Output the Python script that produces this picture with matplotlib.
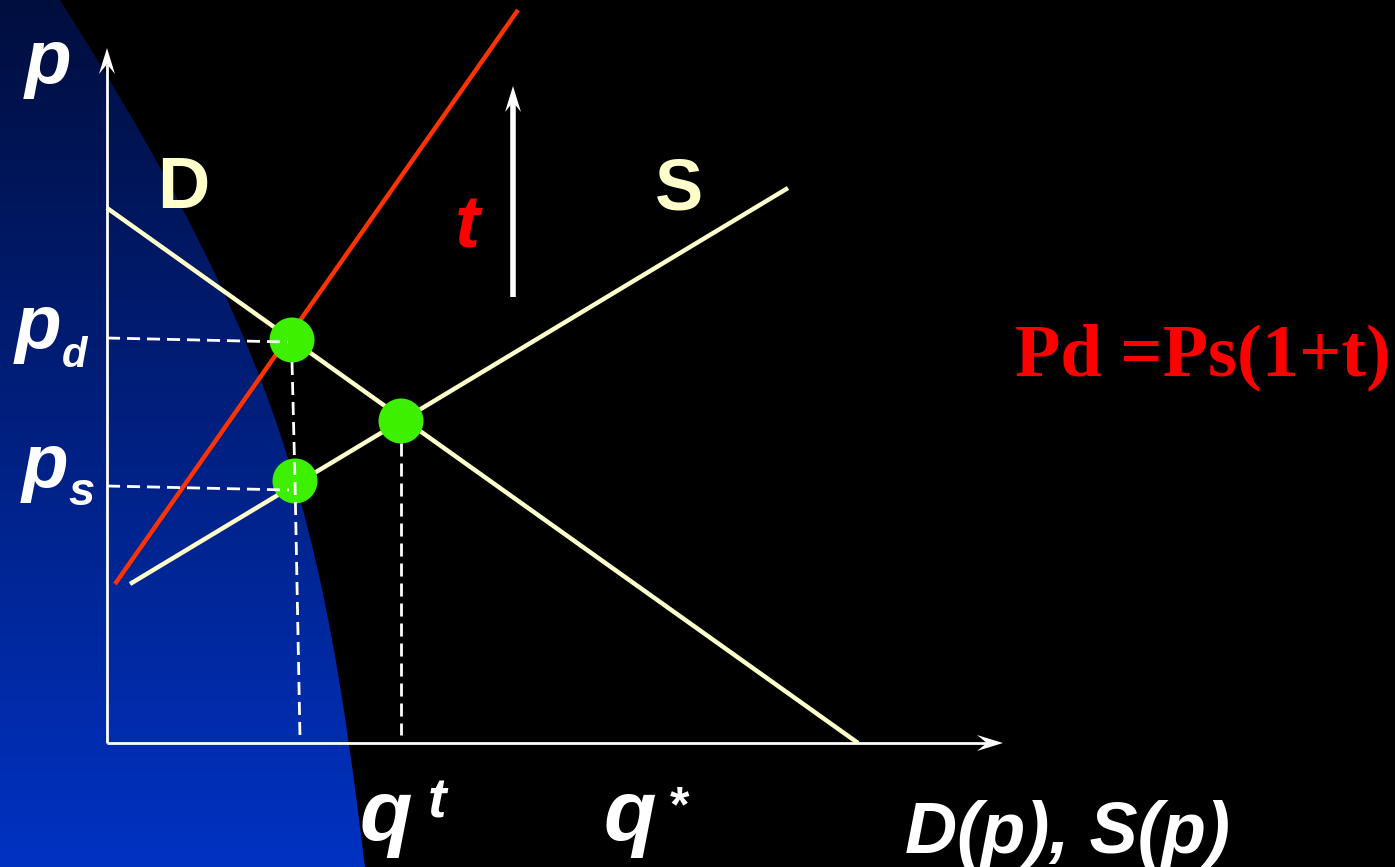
import numpy as np
import matplotlib.pyplot as plt
from matplotlib.path import Path
from matplotlib.patches import PathPatch, Polygon

# Tax wedge on a simple supply / demand diagram.
# Quantity q runs right, price p runs up, origin at the axis corner.
demand_q = [0, 751]
demand_p = [535, 0]
supply_q = [23, 681]
supply_p = [159, 555]
taxed_supply_q = [8, 411]
taxed_supply_p = [159, 733]

# buyer price, no-tax equilibrium, seller price
point_q = [185, 294, 188]
point_p = [403, 322, 262]

q_tax = 193      # quantity traded with the tax
q_star = 294     # quantity without the tax
pd_level = 405
ps_level = 257

SANS = 'Liberation Sans'
SERIF = 'Liberation Serif'
CREAM = '#ffffcc'
GREEN = '#3cf000'

fig = plt.figure(figsize=(13.95, 8.67), dpi=100)
fig.patch.set_facecolor('black')
ax = fig.add_axes([0, 0, 1, 1])
ax.set_facecolor('black')
ax.axis('off')

# blue swoosh on the left side of the slide
verts = [(0, 1), (0.043, 1), (0.2022, 0.5963), (0.2315, 0.4037), (0.2616, 0.0), (0, 0), (0, 1)]
codes = [Path.MOVETO, Path.LINETO, Path.CURVE4, Path.CURVE4, Path.CURVE4, Path.LINETO, Path.CLOSEPOLY]
swoosh = PathPatch(Path(verts, codes), transform=ax.transAxes, facecolor='none', edgecolor='none')
ax.add_patch(swoosh)
top = np.array([0, 14, 62]) / 255
bottom = np.array([0, 50, 194]) / 255
t = np.linspace(0, 1, 256)[:, None]
grad = (top[None, :] * (1 - t) + bottom[None, :] * t)[:, None, :]
img = ax.imshow(grad, extent=[0, 0.27, 0, 1], transform=ax.transAxes,
                aspect='auto', origin='upper', zorder=0)
img.set_clip_path(swoosh)


def arrow(x0, y0, x1, y1, lw, head_len=26, half_w=8, z=3):
    # shaft plus a notched (stealth) head; one data unit is one pixel here
    d = np.array([x1 - x0, y1 - y0], float)
    d /= np.hypot(*d)
    n = np.array([-d[1], d[0]])
    tip = np.array([x1, y1], float)
    back = tip - d * head_len
    notch = tip - d * head_len * 0.62
    ax.plot([x0, notch[0]], [y0, notch[1]], color='white', lw=lw,
            solid_capstyle='butt', zorder=z)
    ax.add_patch(Polygon([tip, back + n * half_w, notch, back - n * half_w],
                         closed=True, color='white', lw=0, zorder=z))


# axes
arrow(0, 0, 0, 695, 2)
arrow(0, 0, 896, 0, 2)

# curves
ax.plot(demand_q, demand_p, color=CREAM, lw=3.2, solid_capstyle='butt', zorder=4)
ax.plot(supply_q, supply_p, color=CREAM, lw=3.2, solid_capstyle='butt', zorder=4)
ax.plot(taxed_supply_q, taxed_supply_p, color='#ff3300', lw=3.2, solid_capstyle='butt', zorder=4)

# the tax shifts supply up
arrow(406, 446, 406, 657, 4, head_len=26, half_w=8, z=4)

# equilibrium dots
ax.scatter(point_q, point_p, s=1050, color=GREEN, edgecolors='none', zorder=5)

# dashed guides
dash = dict(color='white', lw=2, ls=(0, (4.7, 2.5)), zorder=6)
ax.plot([0, point_q[0] - 4], [pd_level, pd_level - 4], **dash)
ax.plot([0, point_q[2] - 6], [ps_level, ps_level - 4], **dash)
ax.plot([point_q[0], point_q[2], q_tax], [point_p[0] - 22, point_p[2], 5], **dash)
ax.plot([q_star, q_star], [point_p[1] - 22, 8], **dash)

# labels
lab = dict(family=SANS, weight='bold', color='white', ha='left', va='baseline', zorder=7)
ax.text(-82, 660, 'p', style='italic', fontsize=55, **lab)
ax.text(-92, 395, 'p', style='italic', fontsize=55, **lab)
ax.text(-45, 376, 'd', style='italic', fontsize=30, **lab)
ax.text(-85, 256, 'p', style='italic', fontsize=55, **lab)
ax.text(-39, 238, 's', style='italic', fontsize=34, **lab)
ax.text(253, -97, 'q', style='italic', fontsize=62, **lab)
ax.text(321, -75, 't', style='italic', fontsize=40, **lab)
ax.text(497, -97, 'q', style='italic', fontsize=62, **lab)
ax.text(561, -42, '*', style='italic', fontsize=36, **{**lab, 'va': 'top'})
ax.text(798, -110, 'D(p), S(p)', style='italic', fontsize=52, **lab)

ax.text(50, 535, 'D', fontsize=52, **{**lab, 'color': CREAM})
ax.text(548, 533, 'S', fontsize=52, **{**lab, 'color': CREAM})
ax.text(348, 495, 't', style='italic', fontsize=54, **{**lab, 'color': '#ff0000'})

ax.text(908, 368, 'Pd =Ps(1+t)', family=SERIF, weight='bold', fontsize=53.5,
        color='#ff0000', ha='left', va='baseline', zorder=7)

ax.set_xlim(-107, 1288)
ax.set_ylim(-124, 743)

fig.savefig('out.png', dpi=100, facecolor='black')
